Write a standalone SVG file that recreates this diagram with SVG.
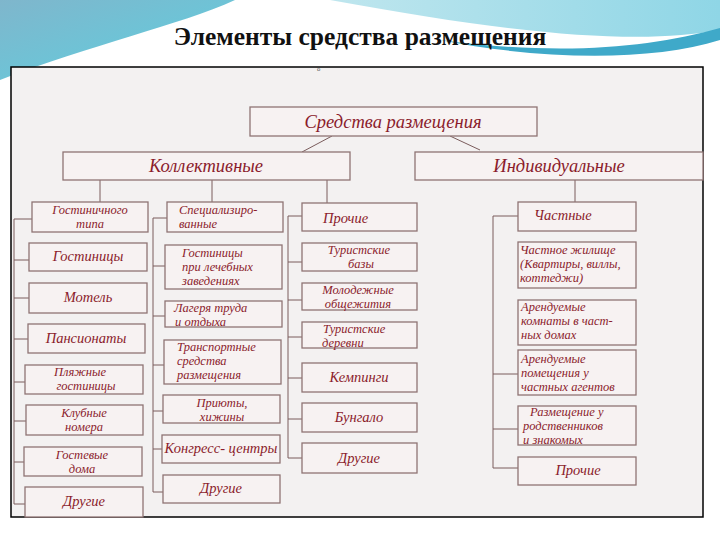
<svg xmlns="http://www.w3.org/2000/svg" width="720" height="540" viewBox="0 0 720 540">
<defs>
<linearGradient id="bgL" x1="0" y1="0" x2="1" y2="1">
<stop offset="0" stop-color="#7fb6cc"/><stop offset="1" stop-color="#5ed0e0"/>
</linearGradient>
<linearGradient id="bgR" x1="0" y1="0" x2="1" y2="0">
<stop offset="0" stop-color="#bfe6ee"/><stop offset="1" stop-color="#8fd6e6"/>
</linearGradient>
</defs>
<style>
.box{fill:#f7f2f2;stroke:#8f7474;stroke-width:1.3}
.t{font-family:"Liberation Serif","DejaVu Serif",serif;font-style:italic;fill:#8b1c2c;font-size:14.5px}
.m{font-size:12.5px}
.c{text-anchor:middle}
.big{font-size:18.5px}
.ln{stroke:#7a5c5c;stroke-width:1;fill:none}
</style>
<rect width="720" height="540" fill="#ffffff"/>
<path d="M0,0 H235 C180,25 90,45 0,80 Z" fill="url(#bgL)"/>
<path d="M330,0 H720 V30 C640,45 520,35 330,0 Z" fill="url(#bgR)"/>
<path d="M440,40 C560,56 650,48 720,28 V40 C650,62 540,60 440,40 Z" fill="#3fa9c9"/>
<text x="360" y="45" text-anchor="middle" font-family="'Liberation Serif', 'DejaVu Serif', serif" font-weight="bold" font-size="25.5" fill="#111">Элементы средства размещения</text>
<rect x="11" y="67" width="692" height="450" fill="#f3f1f1" stroke="#000" stroke-width="1.5"/>
<text x="317" y="71" font-family="'Liberation Sans', sans-serif" font-size="6" fill="#555">o</text>

<g id="connectors">
<path class="ln" d="M332,136 L302,152 M450,136 L480,150"/>
<path class="ln" d="M100,180 V202 M212,180 V202 M327,180 V203 M575,180 V202"/>
<path class="ln" d="M14,219 V504 M14,219 H32 M14,260 H29 M14,298 H29 M14,339 H28 M14,382 H25 M14,421 H26 M14,462 H24 M14,504 H25"/>
<path class="ln" d="M153,218 V492 M153,218 H167 M153,266 H165 M153,316 H165 M153,365 H164 M153,411 H163 M153,449 H162 M153,492 H163"/>
<path class="ln" d="M288,216 V458 M288,216 H302 M288,262 H302 M288,300 H302 M288,337 H302 M288,378 H302 M288,419 H302 M288,458 H302"/>
<path class="ln" d="M493,216 V468 M493,216 H518 M493,374 H518 M493,429 H518 M493,468 H518"/>
</g>

<g id="root"><rect class="box" x="250" y="107" width="287" height="29"/><text class="t c big" x="393" y="128">Средства размещения</text></g>
<g id="collective"><rect class="box" x="63" y="152" width="287" height="28"/><text class="t c big" x="206" y="172">Коллективные</text></g>
<g id="individual"><rect class="box" x="415" y="152" width="288" height="28"/><text class="t c big" x="559" y="172">Индивидуальные</text></g>

<g id="hotel-type"><rect class="box" x="32" y="202" width="116" height="30"/><text class="t c m" x="90" y="214">Гостиничного</text><text class="t c m" x="90" y="228">типа</text></g>
<g id="hotels"><rect class="box" x="29" y="243" width="118" height="28"/><text class="t c" x="88" y="261">Гостиницы</text></g>
<g id="motel"><rect class="box" x="29" y="283" width="118" height="30"/><text class="t c" x="88" y="302">Мотель</text></g>
<g id="pensions"><rect class="box" x="28" y="324" width="117" height="29"/><text class="t c" x="86" y="343">Пансионаты</text></g>
<g id="beach"><rect class="box" x="25" y="365" width="118" height="29"/><text class="t c m" x="80" y="376">Пляжные</text><text class="t c m" x="86" y="390">гостиницы</text></g>
<g id="club"><rect class="box" x="26" y="405" width="117" height="30"/><text class="t c m" x="84" y="417">Клубные</text><text class="t c m" x="84" y="431">номера</text></g>
<g id="guest"><rect class="box" x="24" y="447" width="118" height="29"/><text class="t c m" x="82" y="459">Гостевые</text><text class="t c m" x="82" y="473">дома</text></g>
<g id="other1"><rect class="box" x="25" y="487" width="118" height="30"/><text class="t c" x="84" y="506">Другие</text></g>

<g id="special"><rect class="box" x="167" y="202" width="116" height="30"/><text class="t m" x="179" y="214">Специализиро-</text><text class="t m" x="179" y="228">ванные</text></g>
<g id="medical"><rect class="box" x="165" y="245" width="117" height="44"/><text class="t m" x="182" y="257">Гостиницы</text><text class="t m" x="182" y="271">при лечебных</text><text class="t m" x="182" y="285">заведениях</text></g>
<g id="camps"><rect class="box" x="165" y="301" width="117" height="26"/><text class="t m" x="174" y="312">Лагеря труда</text><text class="t m" x="175" y="326">и отдыха</text></g>
<g id="transport"><rect class="box" x="164" y="340" width="117" height="44"/><text class="t m" x="177" y="351">Транспортные</text><text class="t m" x="177" y="365">средства</text><text class="t m" x="177" y="379">размещения</text></g>
<g id="shelters"><rect class="box" x="163" y="395" width="117" height="28"/><text class="t c m" x="222" y="407">Приюты,</text><text class="t c m" x="222" y="421">хижины</text></g>
<g id="congress"><rect class="box" x="162" y="435" width="118" height="28"/><text class="t c" x="221" y="453">Конгресс- центры</text></g>
<g id="other2"><rect class="box" x="163" y="475" width="117" height="28"/><text class="t c" x="221" y="493">Другие</text></g>

<g id="misc"><rect class="box" x="302" y="203" width="115" height="28"/><text class="t" x="323" y="223">Прочие</text></g>
<g id="tourbase"><rect class="box" x="302" y="243" width="115" height="28"/><text class="t c m" x="359" y="254">Туристские</text><text class="t c m" x="361" y="268">базы</text></g>
<g id="hostels"><rect class="box" x="302" y="283" width="115" height="27"/><text class="t c m" x="358" y="294">Молодежные</text><text class="t c m" x="358" y="308">общежития</text></g>
<g id="villages"><rect class="box" x="302" y="322" width="115" height="26"/><text class="t m" x="323" y="333">Туристские</text><text class="t m" x="322" y="347">деревни</text></g>
<g id="camping"><rect class="box" x="302" y="363" width="115" height="29"/><text class="t c" x="359" y="382">Кемпинги</text></g>
<g id="bungalo"><rect class="box" x="302" y="403" width="115" height="29"/><text class="t c" x="359" y="422">Бунгало</text></g>
<g id="other3"><rect class="box" x="302" y="443" width="115" height="30"/><text class="t c" x="359" y="463">Другие</text></g>

<g id="private"><rect class="box" x="518" y="202" width="118" height="29"/><text class="t" x="534" y="220">Частные</text></g>
<g id="private-home"><rect class="box" x="518" y="242" width="118" height="46"/><text class="t m" x="520" y="254">Частное жилище</text><text class="t m" x="520" y="268">(Квартиры, виллы,</text><text class="t m" x="520" y="282">коттеджи)</text></g>
<g id="rooms"><rect class="box" x="518" y="300" width="118" height="45"/><text class="t m" x="521" y="311">Арендуемые</text><text class="t m" x="521" y="325">комнаты в част-</text><text class="t m" x="521" y="339">ных домах</text></g>
<g id="agents"><rect class="box" x="518" y="350" width="118" height="45"/><text class="t m" x="521" y="363">Арендуемые</text><text class="t m" x="521" y="377">помещения у</text><text class="t m" x="521" y="391">частных агентов</text></g>
<g id="relatives"><rect class="box" x="518" y="406" width="118" height="39"/><text class="t m" x="530" y="416">Размещение у</text><text class="t m" x="523" y="430">родственников</text><text class="t m" x="523" y="444">и знакомых</text></g>
<g id="other4"><rect class="box" x="518" y="457" width="118" height="28"/><text class="t c" x="578" y="475">Прочие</text></g>
</svg>
